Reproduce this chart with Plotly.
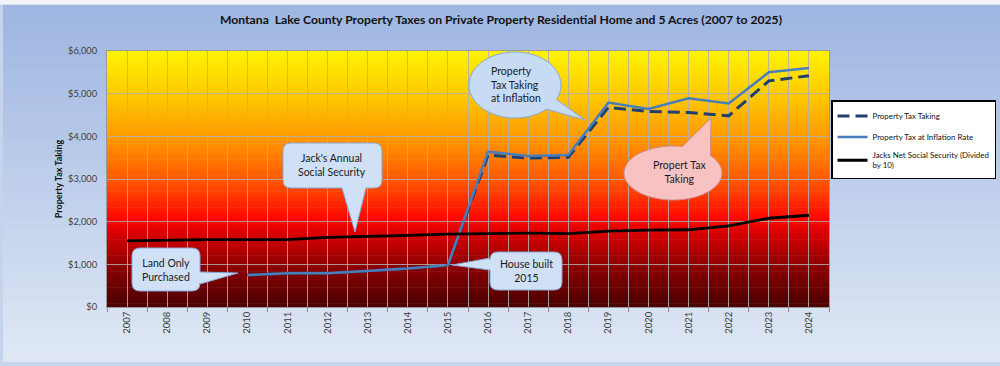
import math
import plotly.graph_objects as go

# ---------------- data ----------------
years = list(range(2007, 2025))
tax_taking = [None, None, None, 750, 790, 790, 840, 900, 980,
              3560, 3490, 3510, 4680, 4580, 4560, 4480, 5300, 5420]
tax_inflation = [None, None, None, 750, 790, 790, 840, 900, 980,
                 3640, 3540, 3560, 4790, 4640, 4890, 4770, 5500, 5600]
social_security = [1550, 1570, 1580, 1580, 1580, 1630, 1650, 1680, 1710,
                   1720, 1730, 1720, 1780, 1800, 1810, 1900, 2080, 2150]
y_ticks = [0, 1000, 2000, 3000, 4000, 5000, 6000]
y_tick_labels = ['$' + format(v, ',') for v in y_ticks]

title = "Montana  Lake County Property Taxes on Private Property Residential Home and 5 Acres (2007 to 2025)"
FONT = "Lato"

# ---------------- geometry helpers (pixel -> paper) ----------------
W, H = 1000, 366
PL, PR, PT, PB = 107, 829, 51, 307


def px(x):
    return (x - PL) / (PR - PL)


def py(y):
    return (PB - y) / (PB - PT)


def hex2rgb(h):
    h = h.lstrip('#')
    return tuple(int(h[i:i + 2], 16) for i in (0, 2, 4))


def interp(stops, t):
    for (t0, c0), (t1, c1) in zip(stops, stops[1:]):
        if t0 <= t <= t1:
            f = (t - t0) / (t1 - t0) if t1 > t0 else 0
            a, b = hex2rgb(c0), hex2rgb(c1)
            return 'rgb(%d,%d,%d)' % tuple(round(a[i] + (b[i] - a[i]) * f) for i in range(3))
    return stops[-1][1]


shapes = []

# page background gradient (light blue)
page_stops = [(0, '#E0E8F5'), (1, '#9DB5E1')]
N = 40
ytop, ybot = 5, 362
for i in range(N):
    y0 = ybot - (ybot - ytop) * i / N
    y1 = ybot - (ybot - ytop) * (i + 1) / N
    shapes.append(dict(type='rect', xref='paper', yref='paper', layer='below',
                       x0=px(3), x1=px(1000), y0=py(y0), y1=py(y1 - 0.5),
                       fillcolor=interp(page_stops, (i + 0.5) / N), line=dict(width=0)))

# plot area gradient (dark red -> red -> orange -> yellow)
plot_stops = [(0, '#4A0000'), (0.16, '#8E0000'), (0.30, '#E00000'), (0.35, '#FF0A00'),
              (0.5, '#FF5A00'), (0.67, '#FF9C00'), (0.83, '#FFCA00'), (1, '#FFF400')]
N = 80
for i in range(N):
    shapes.append(dict(type='rect', xref='paper', yref='paper', layer='below',
                       x0=0, x1=1, y0=i / N, y1=(i + 1) / N + 0.002,
                       fillcolor=interp(plot_stops, (i + 0.5) / N), line=dict(width=0)))


# ---------------- callout bubbles ----------------
def rrect_path(x0, y0, x1, y1, r, tail=None):
    """rounded rectangle in pixels; tail=(side, a, b, tipx, tipy)"""
    seg = []
    seg.append('M %f,%f' % (px(x0 + r), py(y0)))
    seg.append('L %f,%f' % (px(x1 - r), py(y0)))
    seg.append('Q %f,%f %f,%f' % (px(x1), py(y0), px(x1), py(y0 + r)))
    if tail and tail[0] == 'right':
        _, a, b, tx, ty = tail
        seg.append('L %f,%f' % (px(x1), py(a)))
        seg.append('L %f,%f' % (px(tx), py(ty)))
        seg.append('L %f,%f' % (px(x1), py(b)))
    seg.append('L %f,%f' % (px(x1), py(y1 - r)))
    seg.append('Q %f,%f %f,%f' % (px(x1), py(y1), px(x1 - r), py(y1)))
    if tail and tail[0] == 'bottom':
        _, a, b, tx, ty = tail
        seg.append('L %f,%f' % (px(b), py(y1)))
        seg.append('L %f,%f' % (px(tx), py(ty)))
        seg.append('L %f,%f' % (px(a), py(y1)))
    seg.append('L %f,%f' % (px(x0 + r), py(y1)))
    seg.append('Q %f,%f %f,%f' % (px(x0), py(y1), px(x0), py(y1 - r)))
    if tail and tail[0] == 'left':
        _, a, b, tx, ty = tail
        seg.append('L %f,%f' % (px(x0), py(b)))
        seg.append('L %f,%f' % (px(tx), py(ty)))
        seg.append('L %f,%f' % (px(x0), py(a)))
    seg.append('L %f,%f' % (px(x0), py(y0 + r)))
    seg.append('Q %f,%f %f,%f' % (px(x0), py(y0), px(x0 + r), py(y0)))
    seg.append('Z')
    return ' '.join(seg)


def ellipse_path(cx, cy, rx, ry, a0, a1, tx, ty, n=72):
    """ellipse in pixels (angles in degrees, y down) with a tail between a0..a1"""
    seg = []
    first = True
    steps = [a1 + (360 - (a1 - a0)) * k / n for k in range(n + 1)]
    for ang in steps:
        r = math.radians(ang)
        x = cx + rx * math.cos(r)
        y = cy + ry * math.sin(r)
        seg.append(('M' if first else 'L') + ' %f,%f' % (px(x), py(y)))
        first = False
    seg.append('L %f,%f' % (px(tx), py(ty)))
    seg.append('Z')
    return ' '.join(seg)


blue_fill = '#CFE0F7'
blue_line = '#86A8D8'

shapes.append(dict(type='path', xref='paper', yref='paper', layer='above',
                   path=rrect_path(132, 248, 200, 291, 8, ('right', 272, 284, 238, 273)),
                   fillcolor=blue_fill, line=dict(color=blue_line, width=1)))
shapes.append(dict(type='path', xref='paper', yref='paper', layer='above',
                   path=rrect_path(283, 143, 382, 188, 8, ('bottom', 342, 366, 355, 232)),
                   fillcolor=blue_fill, line=dict(color=blue_line, width=1)))
shapes.append(dict(type='path', xref='paper', yref='paper', layer='above',
                   path=rrect_path(490, 252, 562, 290, 8, ('left', 258, 270, 452, 265)),
                   fillcolor=blue_fill, line=dict(color=blue_line, width=1)))
shapes.append(dict(type='path', xref='paper', yref='paper', layer='above',
                   path=ellipse_path(515, 85, 46, 33, 26, 47, 585, 120),
                   fillcolor='#C8DBF5', line=dict(color=blue_line, width=1)))
shapes.append(dict(type='path', xref='paper', yref='paper', layer='above',
                   path=ellipse_path(673, 173, 49, 27, -79, -40, 711, 118),
                   fillcolor='#F8C2C2', line=dict(color='#D08A8A', width=1)))

# top white strip / frame
shapes.append(dict(type='rect', xref='paper', yref='paper', layer='below',
                   x0=px(0), x1=px(1000), y0=py(4.5), y1=py(0),
                   fillcolor='#F4F6F9', line=dict(width=0)))

ann_font = dict(family=FONT, size=10.5, color='#1A1A1A')
annotations = [
    dict(x=px(166), y=py(270), text="Land Only<br>Purchased"),
    dict(x=px(332), y=py(165), text="Jack's Annual<br>Social Security"),
    dict(x=px(526), y=py(271), text="House built<br>2015"),
    dict(x=px(489), y=py(84), text="Property<br>Tax Taking<br>at Inflation", xanchor='left', align='left'),
    dict(x=px(679), y=py(172), text="Propert Tax<br>Taking"),
]
for a in annotations:
    a.update(xref='paper', yref='paper', showarrow=False, font=ann_font, yanchor='middle')
    a.setdefault('xanchor', 'center')
    a.setdefault('align', 'center')

# ---------------- traces ----------------
fig = go.Figure()
fig.add_trace(go.Scatter(x=years, y=tax_taking, mode='lines', name='Property Tax Taking',
                         line=dict(color='#1F3F6E', width=3, dash='12px,6px'),
                         legendgroup='a'))
fig.add_trace(go.Scatter(x=years, y=tax_inflation, mode='lines', name='Property Tax at Inflation Rate',
                         line=dict(color='#4A7EBB', width=2.5), legendgroup='b'))
fig.add_trace(go.Scatter(x=years, y=social_security, mode='lines',
                         name='Jacks Net Social Security (Divided<br>by 10)',
                         line=dict(color='#000000', width=2.8), legendgroup='c'))

grid = 'rgba(175,175,175,0.85)'
fig.update_layout(
    width=W, height=H,
    margin=dict(l=PL, r=W - PR, t=PT, b=H - PB, autoexpand=False),
    paper_bgcolor='#C5D3EC',
    plot_bgcolor='rgba(0,0,0,0)',
    font=dict(family=FONT, color='#404040'),
    title=dict(text='<b>' + title + '</b>', xref='container', x=501 / W, xanchor='center',
               y=1 - 20 / H, yanchor='middle',
               font=dict(family=FONT, size=12.2, color='#111111')),
    xaxis=dict(range=[2006.5, 2024.5], tickvals=years, ticktext=[str(y) for y in years],
               tickangle=-90, ticks='', tickfont=dict(size=9.5, color='#404040'),
               showgrid=True, gridcolor=grid, gridwidth=1,
               minor=dict(tickvals=[y - 0.5 for y in years] + [2024.5], ticks='outside',
                          ticklen=4, tickcolor='#8C8C8C', showgrid=True, gridcolor=grid),
               showline=True, linecolor='#9A9A9A', mirror=True, zeroline=False,
               fixedrange=True),
    yaxis=dict(range=[0, 6000], tickmode='array', tickvals=y_ticks, ticktext=y_tick_labels,
               tickfont=dict(size=9.3, color='#404040'), showgrid=True, gridcolor=grid,
               ticks='', ticklabelstandoff=7, showline=True, linecolor='#9A9A9A', mirror=True,
               zeroline=False,
               title=dict(text='<b>Property Tax Taking</b>', standoff=3,
                          font=dict(size=9, color='#111111')),
               fixedrange=True),
    legend=dict(x=px(831), xanchor='left', y=py(100), yanchor='top',
                bgcolor='#FFFFFF', bordercolor='#000000', borderwidth=1.5,
                font=dict(family=FONT, size=7.9, color='#111111'),
                traceorder='grouped', tracegroupgap=2, itemwidth=30),
    shapes=shapes,
    annotations=annotations,
)

fig.write_html("out.html", config={'displayModeBar': False},
               post_script="document.body.style.margin='0';document.body.style.overflow='hidden';")
